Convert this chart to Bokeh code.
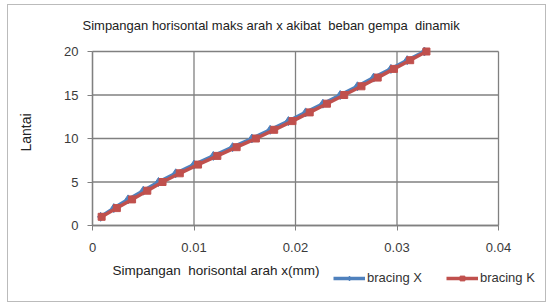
import math
from bokeh.plotting import figure
from bokeh.models import Range1d, Legend, LegendItem, Label, FixedTicker, NumeralTickFormatter
from bokeh.embed import file_html
from bokeh.resources import INLINE

lantai = list(range(1, 21))
bracing_x = [0.0008, 0.0021, 0.0035, 0.0050, 0.0065, 0.0082, 0.0100, 0.0119, 0.0138, 0.0157,
             0.0175, 0.0193, 0.0210, 0.0227, 0.0244, 0.0261, 0.0277, 0.0294, 0.0310, 0.0327]
bracing_k = [0.0009, 0.0024, 0.0039, 0.0054, 0.0069, 0.0086, 0.0104, 0.0123, 0.0142, 0.0161,
             0.0179, 0.0197, 0.0214, 0.0231, 0.0248, 0.0265, 0.0281, 0.0297, 0.0313, 0.0329]
x_ticks = [0, 0.01, 0.02, 0.03, 0.04]
y_ticks = [0, 5, 10, 15, 20]

FONT = "Liberation Sans"
BLUE = "#4F81BD"
RED = "#C0504D"
GRID = "#808080"

# layout geometry (pixels, picture coordinates)
OX, OY = 8, 5                      # top-left of the figure content
W, H = 539, 298
B_LEFT, B_RIGHT, B_TOP, B_BOTTOM = 1, 1, 34, 1
DA_L, DA_R, DA_T, DA_B = 92, 498, 51, 225   # data area 0..0.04 x 0..20
x_lo, x_hi = x_ticks[0], x_ticks[-1]
y_lo, y_hi = y_ticks[0], y_ticks[-1]
ppx = (DA_R - DA_L) / (x_hi - x_lo)
ppy = (DA_B - DA_T) / (y_hi - y_lo)
f_left, f_right = OX + B_LEFT, OX + W - B_RIGHT
f_top, f_bottom = OY + B_TOP, OY + H - B_BOTTOM
x_start = x_lo - (DA_L - f_left) / ppx
x_end = x_hi + (f_right - DA_R) / ppx
y_end = y_hi + (DA_T - f_top) / ppy
y_start = y_lo - (f_bottom - DA_B) / ppy

p = figure(width=W, height=H, output_backend="svg", toolbar_location=None,
           x_range=Range1d(x_start, x_end), y_range=Range1d(y_start, y_end),
           min_border_left=B_LEFT, min_border_right=B_RIGHT,
           min_border_top=B_TOP, min_border_bottom=B_BOTTOM)
p.outline_line_color = None
p.grid.visible = False

p.title.text = "Simpangan horisontal maks arah x akibat\u00a0 beban gempa\u00a0 dinamik"
p.title.align = "left"
p.title.offset = 82 - f_left
p.title.text_font = FONT
p.title.text_font_size = "13px"
p.title.text_font_style = "normal"
p.title.text_color = "#222222"
p.title.standoff = 14

p.xaxis.ticker = FixedTicker(ticks=x_ticks)
p.yaxis.ticker = FixedTicker(ticks=y_ticks)
p.xaxis.formatter = NumeralTickFormatter(format="0.[00]")
p.xaxis.fixed_location = y_lo
p.yaxis.fixed_location = x_lo
p.xaxis.bounds = (x_lo, x_hi)
p.yaxis.bounds = (y_lo, y_hi)
for ax in (p.xaxis, p.yaxis):
    ax.major_label_text_font = FONT
    ax.major_label_text_font_size = "13px"
    ax.major_label_text_color = "#3a3a3a"
    ax.axis_line_color = GRID
    ax.axis_line_width = 1.3
    ax.major_tick_line_color = GRID
    ax.major_tick_out = 5
    ax.major_tick_in = 0
    ax.minor_tick_line_color = None
p.xaxis.major_label_standoff = 12
p.yaxis.major_label_standoff = 9

# grid lines limited to the data area
p.segment(x0=x_ticks, y0=[y_lo] * len(x_ticks), x1=x_ticks, y1=[y_hi] * len(x_ticks),
          line_color=GRID, line_width=1.3)
p.segment(x0=[x_lo] * len(y_ticks), y0=y_ticks, x1=[x_hi] * len(y_ticks), y1=y_ticks,
          line_color=GRID, line_width=1.3)

lx = p.line(bracing_x, lantai, line_color=BLUE, line_width=3.5)
mx = p.scatter(bracing_x, lantai, marker="diamond", size=9, fill_color=BLUE, line_color=BLUE)
lk = p.line(bracing_k, lantai, line_color=RED, line_width=3.5)
mk = p.scatter(bracing_k, lantai, marker="square", size=7, fill_color=RED, line_color=RED)

p.add_layout(Label(x=x_lo + (25 - DA_L) / ppx, y=y_lo + (DA_B - 132) / ppy, text="Lantai",
                   angle=math.pi / 2, text_align="center", text_baseline="middle",
                   text_font=FONT, text_font_size="14px", text_color="#222222"))
p.add_layout(Label(x=x_lo + (112 - DA_L) / ppx, y=y_lo - (270 - DA_B) / ppy,
                   text="Simpangan\u00a0 horisontal arah x(mm)",
                   text_baseline="middle", text_font=FONT, text_font_size="13.5px",
                   text_color="#222222"))

legend = Legend(items=[LegendItem(label="bracing X", renderers=[lx, mx]),
                       LegendItem(label="bracing K", renderers=[lk, mk])],
                orientation="horizontal", location=(333 - f_left, 17),
                label_text_font=FONT, label_text_font_size="13px",
                label_text_color="#333333", background_fill_alpha=0,
                border_line_color=None, glyph_width=32, glyph_height=12, spacing=24,
                padding=0, margin=0, label_standoff=2, label_height=12)
p.add_layout(legend, "center")
p.styles = {"border": "1px solid #bbbbbb", "margin-left": "7px", "margin-top": "4px"}

open("out.html", "w").write(file_html(p, INLINE))
